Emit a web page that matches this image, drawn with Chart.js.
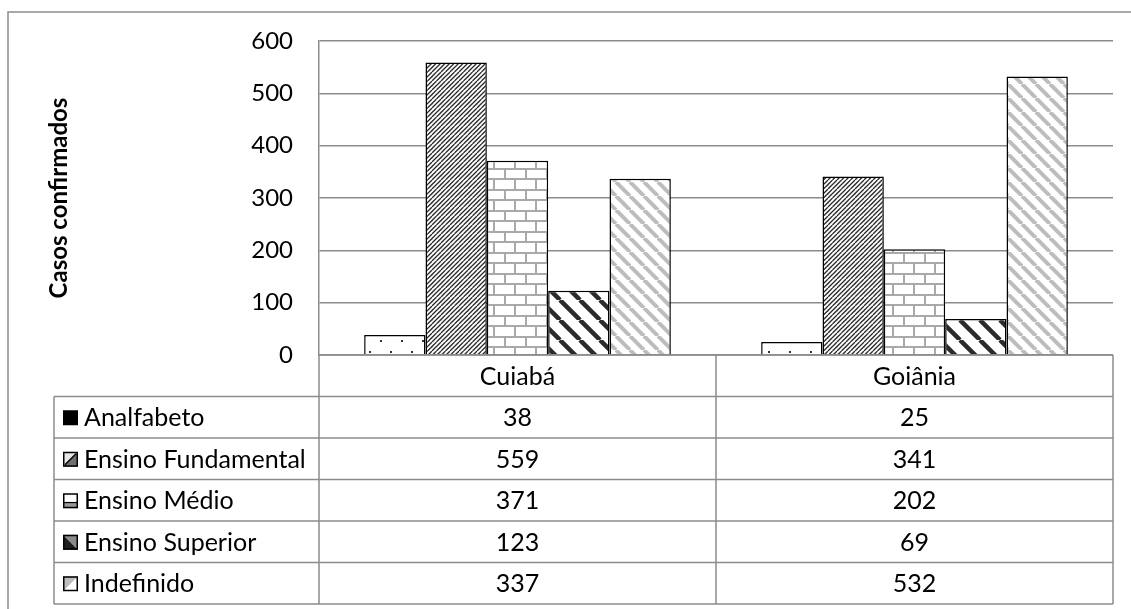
<!DOCTYPE html>
<html>
<head>
<meta charset="utf-8">
<script src="https://cdn.jsdelivr.net/npm/chart.js@4.4.1/dist/chart.umd.min.js"></script>
<style>
  html, body { margin: 0; padding: 0; background: #fff; }
  canvas { display: block; }
</style>
</head>
<body>
<canvas id="chart" width="1131" height="609"></canvas>
<script>
// Confirmed cases by schooling level, per city
const categories = ['Cuiabá', 'Goiânia'];
const seriesNames = ['Analfabeto', 'Ensino Fundamental', 'Ensino Médio', 'Ensino Superior', 'Indefinido'];
const analfabeto = [38, 25];
const ensinoFundamental = [559, 341];
const ensinoMedio = [371, 202];
const ensinoSuperior = [123, 69];
const indefinido = [337, 532];
const yTickValues = [0, 100, 200, 300, 400, 500, 600];
const yAxisTitle = 'Casos confirmados';

const seriesValues = [analfabeto, ensinoFundamental, ensinoMedio, ensinoSuperior, indefinido];

const FONT = 'Lato';
const GRID = '#8c8c8c';
const TEXT = '#000';

const canvas = document.getElementById('chart');
const ctx = canvas.getContext('2d');

// ---- fill patterns -------------------------------------------------------
function makeTile(w, h, draw) {
  const c = document.createElement('canvas');
  c.width = w; c.height = h;
  const g = c.getContext('2d');
  g.fillStyle = '#fff';
  g.fillRect(0, 0, w, h);
  draw(g, w, h);
  return ctx.createPattern(c, 'repeat');
}
function diagonal(g, size, period, color, width, upward) {
  g.strokeStyle = color;
  g.lineWidth = width;
  for (let x0 = -size; x0 <= size; x0 += period) {
    g.beginPath();
    if (upward) { g.moveTo(x0, size); g.lineTo(x0 + size, 0); }
    else { g.moveTo(x0, 0); g.lineTo(x0 + size, size); }
    g.stroke();
  }
}
const dotsFill = makeTile(21, 21, (g) => {
  g.fillStyle = '#333';
  g.fillRect(12, 15, 2, 2);
  g.fillRect(2, 4, 2, 2);
});
const fineUpFill = makeTile(9, 9, (g) => diagonal(g, 9, 4.5, '#2a2a2a', 1.3, true));
const brickFill = makeTile(21, 21, (g) => {
  g.fillStyle = '#a9a9a9';
  g.fillRect(0, 0, 21, 2);
  g.fillRect(0, 10, 21, 2);
  g.fillRect(0, 0, 2, 11);
  g.fillRect(10, 11, 2, 10);
});
const wideDownDarkFill = makeTile(20, 20, (g) => diagonal(g, 20, 20, '#2b2b2b', 4.5, false));
const wideDownLightFill = makeTile(14, 14, (g) => diagonal(g, 14, 14, '#bdbdbd', 4, false));
const fills = [dotsFill, fineUpFill, brickFill, wideDownDarkFill, wideDownLightFill];

// ---- legend swatches for the data table ---------------------------------
function drawSwatch(g, i, x, y, s) {
  g.save();
  if (i === 0) {
    g.fillStyle = '#000';
    g.fillRect(x, y, s, s);
  } else {
    g.fillStyle = '#fff';
    g.fillRect(x, y, s, s);
    g.beginPath();
    if (i === 1) {
      g.moveTo(x, y + s); g.lineTo(x + s, y); g.lineTo(x, y); g.closePath();
      g.fillStyle = '#e6e6e6'; g.fill();
      g.beginPath(); g.moveTo(x, y + s); g.lineTo(x + s, y + s); g.lineTo(x + s, y); g.closePath();
      g.fillStyle = '#6f6f6f'; g.fill();
      g.beginPath(); g.moveTo(x + 2, y + s - 2); g.lineTo(x + s - 2, y + 2);
      g.strokeStyle = '#000'; g.lineWidth = 1.5; g.stroke();
    } else if (i === 2) {
      g.fillStyle = '#9a9a9a';
      g.fillRect(x, y + s * 0.62, s, s * 0.38);
      g.fillStyle = '#000';
      g.fillRect(x, y + s * 0.58, s, 1.2);
    } else if (i === 3) {
      g.moveTo(x, y); g.lineTo(x + s, y + s); g.lineTo(x, y + s); g.closePath();
      g.fillStyle = '#1e1e1e'; g.fill();
      g.beginPath(); g.moveTo(x, y); g.lineTo(x + s, y); g.lineTo(x + s, y + s); g.closePath();
      g.fillStyle = '#8a8a8a'; g.fill();
    } else {
      g.moveTo(x, y); g.lineTo(x + s, y); g.lineTo(x, y + s); g.closePath();
      g.fillStyle = '#bdbdbd'; g.fill();
    }
    g.strokeStyle = '#000';
    g.lineWidth = 1.5;
    g.strokeRect(x + 0.75, y + 0.75, s - 1.5, s - 1.5);
  }
  g.restore();
}

// ---- data table under the plot, laid out from the chart's own scales ----
const TABLE_ROW_H = 41.5;
const TABLE_LEFT = 54;
const FRAME = { left: 8, top: 12 };

const dataTablePlugin = {
  id: 'dataTable',
  afterDraw(chart) {
    const g = chart.ctx;
    const { chartArea } = chart;
    const x = chart.scales.x;
    const y = chart.scales.y;
    const top = y.getPixelForValue(0);
    const left = chartArea.left;
    const right = chartArea.right;
    const colW = (right - left) / categories.length;
    const bottom = top + TABLE_ROW_H * (seriesNames.length + 1);

    g.save();
    g.strokeStyle = GRID;
    g.lineWidth = 1.5;

    // outer frame
    g.beginPath();
    g.moveTo(FRAME.left, chart.height + 10);
    g.lineTo(FRAME.left, FRAME.top);
    g.lineTo(chart.width + 10, FRAME.top);
    g.stroke();

    // horizontal rules
    g.beginPath();
    g.moveTo(left, top); g.lineTo(right, top);
    for (let r = 1; r <= seriesNames.length + 1; r++) {
      const yy = top + r * TABLE_ROW_H;
      g.moveTo(TABLE_LEFT, yy); g.lineTo(right, yy);
    }
    // vertical rules
    for (let c = 0; c <= categories.length; c++) {
      const xx = left + c * colW;
      g.moveTo(xx, top); g.lineTo(xx, bottom);
    }
    g.moveTo(TABLE_LEFT, top + TABLE_ROW_H); g.lineTo(TABLE_LEFT, bottom);
    g.stroke();

    // header row
    g.fillStyle = TEXT;
    g.font = `25px ${FONT}`;
    g.textBaseline = 'middle';
    g.textAlign = 'center';
    categories.forEach((cat, c) => {
      g.fillText(cat, x.getPixelForValue(c), top + TABLE_ROW_H / 2 + 1);
    });

    // series rows
    seriesNames.forEach((name, i) => {
      const cy = top + (i + 1) * TABLE_ROW_H + TABLE_ROW_H / 2 + 1;
      drawSwatch(g, i, 63, cy - 8, 15);
      g.fillStyle = TEXT;
      g.textAlign = 'left';
      g.fillText(name, 84, cy);
      g.textAlign = 'center';
      seriesValues[i].forEach((v, c) => {
        g.fillText(String(v), x.getPixelForValue(c), cy);
      });
    });
    g.restore();
  }
};

new Chart(canvas, {
  type: 'bar',
  data: {
    labels: categories,
    datasets: seriesNames.map((name, i) => ({
      label: name,
      data: seriesValues[i],
      backgroundColor: fills[i],
      borderColor: '#000',
      borderWidth: 1.5,
      borderSkipped: 'start',
      barPercentage: 1,
      categoryPercentage: 0.7725
    }))
  },
  options: {
    responsive: false,
    animation: false,
    events: [],
    layout: { padding: { left: 0, top: 41, right: 18, bottom: 254 } },
    plugins: {
      legend: { display: false },
      tooltip: { enabled: false }
    },
    scales: {
      x: { display: false },
      y: {
        min: yTickValues[0],
        max: yTickValues[yTickValues.length - 1],
        afterFit(scale) { scale.width = 319; },
        afterBuildTicks(scale) { scale.ticks = yTickValues.map(v => ({ value: v })); },
        grid: { color: GRID, lineWidth: 1.5, drawTicks: false },
        border: { display: true, color: GRID, width: 1.5 },
        ticks: {
          color: TEXT,
          padding: 26,
          font: { family: FONT, size: 24 }
        },
        title: {
          display: true,
          text: yAxisTitle,
          color: TEXT,
          padding: { top: 45, bottom: 0 },
          font: { family: FONT, size: 24, weight: 'bold' }
        }
      }
    }
  },
  plugins: [dataTablePlugin]
});
</script>
</body>
</html>
